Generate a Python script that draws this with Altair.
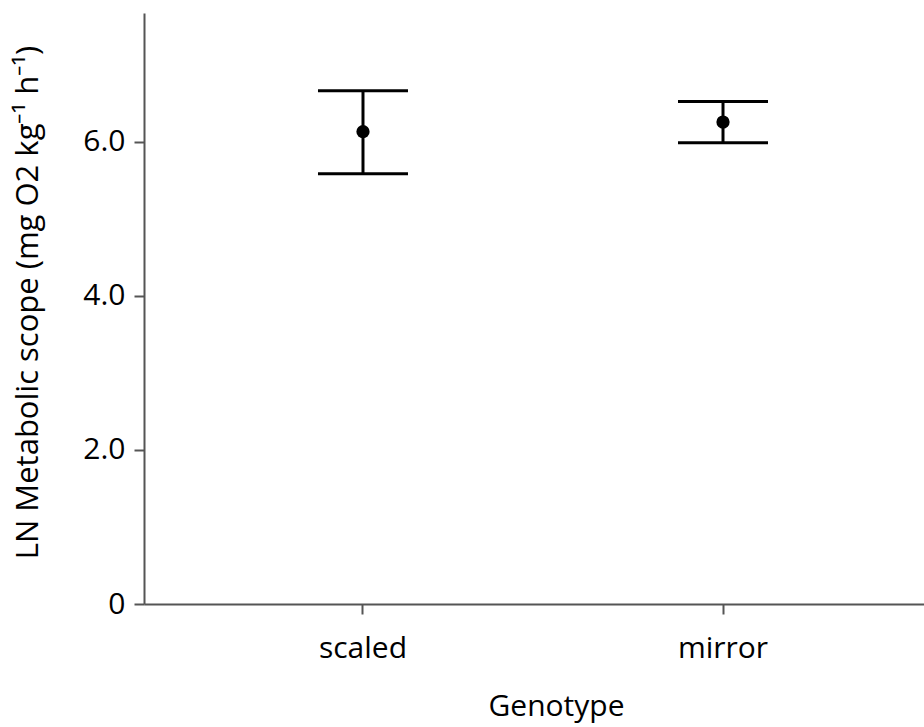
import altair as alt
import pandas as pd

# Metabolic scope by genotype: mean with upper/lower error limits
genotypes = ["scaled", "mirror"]
means = [6.13, 6.255]
upper = [6.66, 6.52]
lower = [5.585, 5.985]

df = pd.DataFrame({"Genotype": genotypes, "mean": means, "upper": upper, "lower": lower})

FONT = "Open Sans"
AXIS_COLOR = "#555555"

x_enc = alt.X(
    "Genotype:N",
    sort=genotypes,
    scale=alt.Scale(type="band", paddingInner=0, paddingOuter=0.0833, align=0.65),
    axis=alt.Axis(
        title="Genotype",
        labelAngle=0,
        labelFontSize=30,
        labelBaseline="alphabetic",
        labelPadding=43,
        tickSize=10,
        titleFontSize=30,
        titleFontWeight="normal",
        titleBaseline="alphabetic",
        titleX=412,
        titleY=111,
        titleAlign="center",
    ),
)

y_scale = alt.Scale(domain=[0, 7.67], nice=False, zero=True)
y_axis = alt.Axis(
    title="LN Metabolic scope (mg O2 kg\u207b\u00b9 h\u207b\u00b9)",
    values=[0, 2, 4, 6],
    labelExpr="datum.value == 0 ? '0' : format(datum.value, '.1f')",
    labelFontSize=30,
    labelPadding=9,
    tickSize=10,
    titleFontSize=31,
    titleFontWeight="normal",
    titleAngle=-90,
    titleBaseline="alphabetic",
    titleAlign="center",
    titleX=-107,
    titleY=289,
    grid=False,
)

base = alt.Chart(df)

stems = base.mark_rule(color="black", strokeWidth=3).encode(
    x=x_enc,
    y=alt.Y("lower:Q", scale=y_scale, axis=y_axis),
    y2="upper:Q",
)

caps_top = base.mark_tick(color="black", opacity=1, thickness=3, size=90).encode(
    x=alt.X("Genotype:N", sort=genotypes),
    y=alt.Y("upper:Q"),
)

caps_bottom = base.mark_tick(color="black", opacity=1, thickness=3, size=90).encode(
    x=alt.X("Genotype:N", sort=genotypes),
    y=alt.Y("lower:Q"),
)

dots = base.mark_circle(color="black", opacity=1, size=175).encode(
    x=alt.X("Genotype:N", sort=genotypes),
    y=alt.Y("mean:Q"),
)

chart = (
    alt.layer(stems, caps_top, caps_bottom, dots)
    .properties(
        width=780,
        height=591,
        autosize=alt.AutoSizeParams(type="none"),
        padding={"left": 144, "top": 13, "right": 0, "bottom": 123},
        background="white",
    )
    .configure_view(stroke=None)
    .configure_axis(
        labelFont=FONT,
        titleFont=FONT,
        labelColor="#000000",
        titleColor="#000000",
        domainColor=AXIS_COLOR,
        tickColor=AXIS_COLOR,
        domainWidth=2,
        tickWidth=2,
        grid=False,
    )
)

chart.save("out.html", embed_options={"renderer": "svg", "actions": False})
